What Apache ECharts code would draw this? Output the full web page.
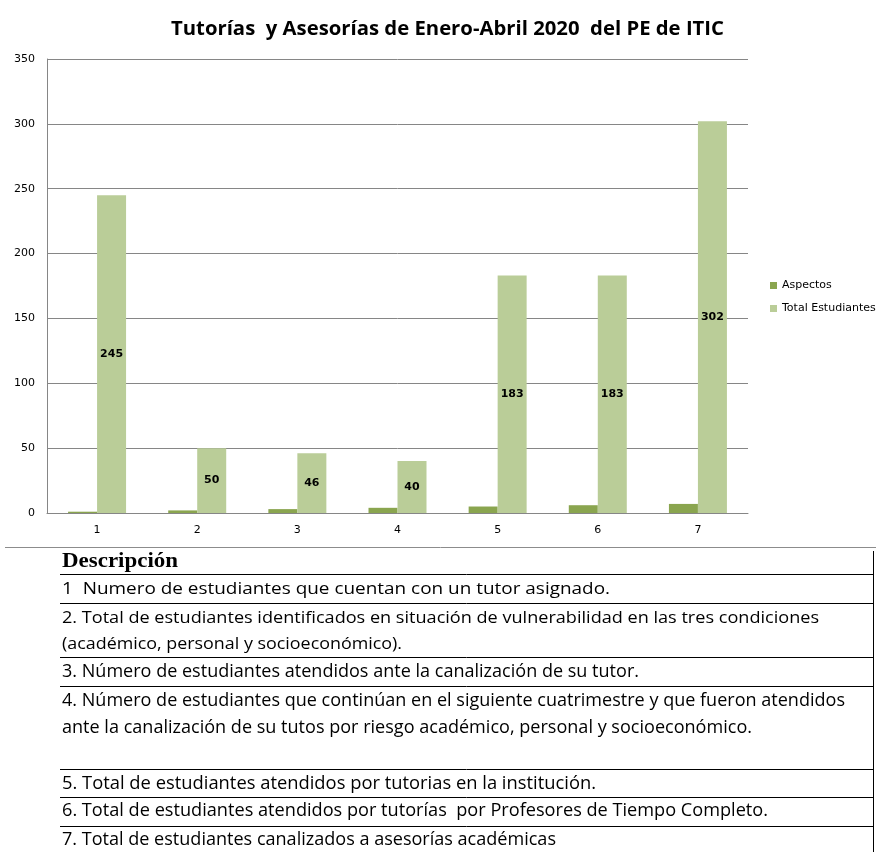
<!DOCTYPE html>
<html>
<head>
<meta charset="utf-8">
<script src="https://cdn.jsdelivr.net/npm/echarts@6/dist/echarts.min.js"></script>
<style>
  html, body { margin: 0; padding: 0; background: #fff; }
  #chart { width: 880px; height: 852px; }
</style>
</head>
<body>
<div id="chart"></div>
<script>
// --- chart data ---
var categories = ['1', '2', '3', '4', '5', '6', '7'];
var aspectos = [1, 2, 3, 4, 5, 6, 7];
var totalEstudiantes = [245, 50, 46, 40, 183, 183, 302];
var seriesNames = ['Aspectos', 'Total Estudiantes'];
var chartTitle = 'Tutorías  y Asesorías de Enero-Abril 2020  del PE de ITIC';

// --- description table text ---
var descHeader = 'Descripción';
var descLines = [
    '1  Numero de estudiantes que cuentan con un tutor asignado.',
    '2. Total de estudiantes identificados en situación de vulnerabilidad en las tres condiciones',
    '(académico, personal y socioeconómico).',
    '3. Número de estudiantes atendidos ante la canalización de su tutor.',
    '4. Número de estudiantes que continúan en el siguiente cuatrimestre y que fueron atendidos',
    'ante la canalización de su tutos por riesgo académico, personal y socioeconómico.',
    '5. Total de estudiantes atendidos por tutorias en la institución.',
    '6. Total de estudiantes atendidos por tutorías  por Profesores de Tiempo Completo.',
    '7. Total de estudiantes canalizados a asesorías académicas'
];

// layout for the table (pixels)
var lineY = [589, 618, 644, 672, 701, 728, 784, 811, 840];
var lineW = [548, 757, 340, 577, 783, 690, 534, 706, 494];
var lineSize = [17, 17, 17, 19, 19, 19, 19, 19, 19];
var ruleY = [574, 603, 657, 686, 769, 797, 826];

// helper: horizontal scale so a string fills a given width
var measureCtx = document.createElement('canvas').getContext('2d');
function fitScale(text, font, width) {
    measureCtx.font = font;
    return width / measureCtx.measureText(text).width;
}

var graphics = [];

// title (drawn as graphic so it can be squeezed like Calibri)
var titleFont = 'bold 20px "Open Sans"';
graphics.push({
    type: 'text', x: 171, y: 29,
    scaleX: fitScale(chartTitle, titleFont, 553),
    style: { text: chartTitle, font: titleFont, fill: '#000', verticalAlign: 'middle' }
});

// separator under the chart
graphics.push({
    type: 'line',
    shape: { x1: 5, y1: 547.5, x2: 876, y2: 547.5 },
    style: { stroke: '#8c8c8c', lineWidth: 1 }
});

// table header
var headFont = 'bold 21px "Liberation Serif"';
graphics.push({
    type: 'text', x: 62, y: 562,
    scaleX: fitScale(descHeader, headFont, 116),
    style: { text: descHeader, font: headFont, fill: '#000', verticalAlign: 'middle' }
});

// table rules
ruleY.forEach(function (y) {
    graphics.push({
        type: 'line',
        shape: { x1: 60, y1: y + 0.5, x2: 873, y2: y + 0.5 },
        style: { stroke: '#000', lineWidth: 1 }
    });
});
graphics.push({
    type: 'line',
    shape: { x1: 873.5, y1: 551, x2: 873.5, y2: 852 },
    style: { stroke: '#000', lineWidth: 1 }
});

// table rows
descLines.forEach(function (t, i) {
    var f = lineSize[i] + 'px "Open Sans"';
    graphics.push({
        type: 'text', x: 62, y: lineY[i],
        scaleX: fitScale(t, f, lineW[i]),
        style: { text: t, font: f, fill: '#000', verticalAlign: 'middle' }
    });
});

var chart = echarts.init(document.getElementById('chart'));
chart.setOption({
    animation: false,
    backgroundColor: '#fff',
    grid: { left: 47, right: 132, top: 59, bottom: 339 },
    legend: {
        orient: 'vertical',
        left: 765, top: 275,
        itemWidth: 7, itemHeight: 7, itemGap: 12,
        icon: 'rect',
        textStyle: { fontFamily: 'DejaVu Sans', fontSize: 11, color: '#000' },
        data: seriesNames
    },
    xAxis: {
        type: 'category',
        data: categories,
        axisLine: { lineStyle: { color: '#868686', width: 1 } },
        axisTick: { show: false },
        axisLabel: { color: '#000', fontFamily: 'DejaVu Sans', fontSize: 11, margin: 12 }
    },
    yAxis: {
        type: 'value',
        min: 0, max: 350, interval: 50,
        axisLine: { show: true, lineStyle: { color: '#868686', width: 1 } },
        axisTick: { show: false },
        splitLine: { lineStyle: { color: '#868686', width: 1 } },
        axisLabel: { color: '#000', fontFamily: 'DejaVu Sans', fontSize: 11, margin: 12 }
    },
    series: [
        {
            name: seriesNames[0], type: 'bar',
            data: aspectos,
            barWidth: 29, barGap: '0%',
            itemStyle: { color: '#8aa54f' }
        },
        {
            name: seriesNames[1], type: 'bar',
            data: totalEstudiantes,
            barWidth: 29,
            itemStyle: { color: '#bacd98' },
            label: {
                show: true, position: 'inside',
                color: '#000', fontWeight: 'bold',
                fontFamily: 'DejaVu Sans', fontSize: 11
            }
        }
    ],
    graphic: graphics
});
</script>
</body>
</html>
